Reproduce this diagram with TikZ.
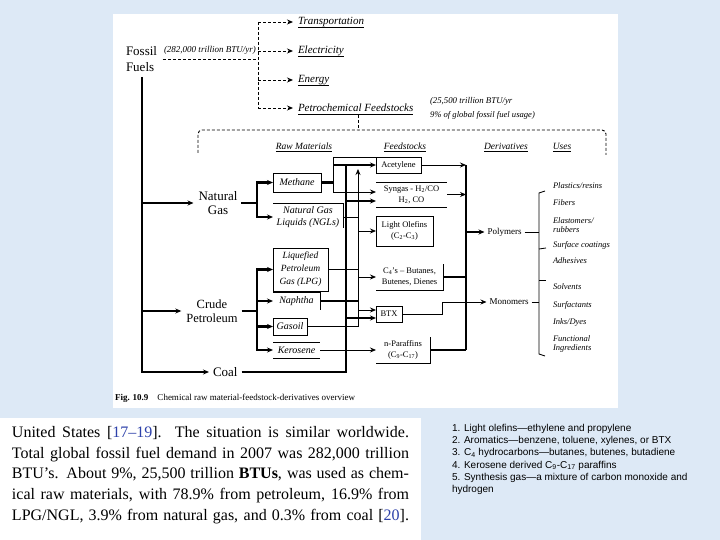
\documentclass[tikz,border=0pt]{standalone}
\usepackage{fontspec}
\setmainfont{Liberation Serif}
\newfontfamily\listfont{Liberation Sans}
\usetikzlibrary{arrows.meta,calc}
\definecolor{slidebg}{RGB}{221,233,246}
\definecolor{citeblue}{RGB}{45,65,170}
\newcommand\myfs[2]{\fontsize{#1}{#2}\selectfont}
\begin{document}
\begin{tikzpicture}[x=1pt,y=-1pt,
  txt/.style={inner sep=0pt,outer sep=0pt},
  thk/.style={line width=2.2pt},
  mid/.style={line width=1.4pt},
  thn/.style={line width=0.8pt},
  arr/.style={-{Stealth[length=6pt,width=5pt]}},
  dsh/.style={line width=0.9pt,dash pattern=on 3pt off 2pt},
  bx/.style={draw,line width=0.8pt},
  rawbox/.style={txt,font=\myfs{10}{12}\itshape,align=center},
  fdbox/.style={txt,font=\myfs{8.5}{11},align=center},
  useslbl/.style={txt,anchor=west,font=\myfs{8.5}{9.5}\itshape,align=left},
  toplbl/.style={txt,anchor=west,font=\myfs{11}{13}\itshape},
  hdr/.style={txt,font=\myfs{9.5}{10}\itshape},
  para/.style={txt,anchor=base west,font=\myfs{16}{20}},
  listl/.style={txt,anchor=base west,font=\listfont\myfs{10}{12}},
]
\useasboundingbox (0,0) rectangle (720,540);
\fill[slidebg] (0,0) rectangle (720,540);
\fill[white] (113,14) rectangle (618,408);
\fill[white] (0,418) rectangle (421,540);

% ---------- top part ----------
\node[txt,anchor=base west,font=\myfs{13}{13}] (fossil) at (126,56) {Fossil};
\node[txt,anchor=base west,font=\myfs{13}{13}] (fuels) at (126,72) {Fuels};
\node[txt,anchor=base west,font=\myfs{9}{9}\itshape] (ffnote) at (164,53) {(282,000 trillion BTU/yr)};

\node[toplbl] (trans) at (298,22) {Transportation};
\node[toplbl] (elec) at (298,51) {Electricity};
\node[toplbl] (energy) at (298,80) {Energy};
\node[toplbl] (petro) at (298,108) {Petrochemical Feedstocks};
\foreach \n in {trans,elec,energy,petro}
  \draw[thn] ([yshift=-2.5pt]\n.base west) -- ([yshift=-2.5pt]\n.base east);

\coordinate (dvTop) at (258,22);
\coordinate (dvBot) at (258,108);
\coordinate (fdStart) at (163,59);
\draw[dsh] (fdStart) -- (fdStart -| dvTop);
\draw[dsh] (dvTop) -- (dvBot);
\draw[dsh,arr,shorten >=5pt] (dvTop) -- (trans.west);
\draw[dsh,arr,shorten >=5pt] (dvTop |- elec.west) -- (elec.west);
\draw[dsh,arr,shorten >=5pt] (dvTop |- energy.west) -- (energy.west);
\draw[dsh,arr,shorten >=5pt] (dvBot) -- (petro.west);

\node[txt,anchor=base west,font=\myfs{8.8}{9}\itshape] (pnote1) at (430,104) {(25,500 trillion BTU/yr};
\node[txt,anchor=base west,font=\myfs{8.6}{9}\itshape] (pnote2) at (430,118) {9\% of global fossil fuel usage)};

\coordinate (pdTop) at (358,115);
\coordinate (pdBot) at (358,130);
\coordinate (brL) at (198,153);
\coordinate (brR) at (606,155);
\draw[dsh] (pdTop) -- (pdBot);
\draw[dsh,rounded corners=4pt] (brL) |- (pdBot) -| (brR);

\node[hdr] (hraw) at (304,146) {Raw Materials};
\node[hdr] (hfeed) at (405,146) {Feedstocks};
\node[hdr] (hder) at (506,146) {Derivatives};
\node[hdr] (huse) at (562,146) {Uses};
\foreach \n in {hraw,hfeed,hder,huse}
  \draw[line width=0.6pt] ([yshift=-2pt]\n.base west) -- ([yshift=-2pt]\n.base east);

% ---------- sources ----------
\node[txt,align=center,font=\myfs{13}{14}] (ng) at (218,203) {Natural\\Gas};
\node[txt,align=center,font=\myfs{12.5}{14}] (cp) at (212,311) {Crude\\Petroleum};
\node[txt,anchor=west,font=\myfs{13}{13}] (coal) at (213,372) {Coal};
\coordinate (trunkTop) at (142,77);
\draw[thk,arr,shorten >=5pt] (trunkTop |- ng.west) -- (ng.west);
\draw[thk,arr,shorten >=5pt] (trunkTop |- cp.west) -- (cp.west);
\draw[thk,arr,shorten >=4pt] (trunkTop) |- (coal.west);

% ---------- raw materials ----------
\node[rawbox,bx,minimum width=48pt,minimum height=19pt] (meth) at (297,182.5) {Methane};
\node[rawbox,minimum width=70pt,minimum height=28pt] (ngl) at (308,217) {Natural Gas\\Liquids (NGLs)};
\draw[thn] (ngl.north west) -- (ngl.north east) -- ($(ngl.south east)+(0,-3)$);
\node[rawbox,bx,minimum width=55pt,minimum height=43pt,font=\myfs{9.5}{13}\itshape] (lpg) at (300.5,269.5) {Liquefied\\Petroleum\\Gas (LPG)};
\node[rawbox,minimum width=47pt,minimum height=18pt] (naph) at (296.5,301) {Naphtha};
\draw[thn] (naph.north west) -- (naph.north east) -- (naph.south east);
\node[rawbox,bx,minimum width=34pt,minimum height=17pt] (gasoil) at (290,326.5) {Gasoil};
\node[rawbox,minimum width=47pt,minimum height=16pt] (ker) at (296.5,350) {Kerosene};
\draw[thn] (ker.north west) -- (ker.north east);
\draw[thn] (ker.south west) -- (ker.south east);

\coordinate (ngJ) at (257,203);
\draw[thk,shorten <=4pt] (ng.east) -- (ngJ);
\draw[thk,arr] (ngJ) |- (meth.west);
\draw[thk,arr] (ngJ) |- (ngl.west);

\coordinate (cpJ) at (257,311);
\draw[thk,shorten <=4pt] (cp.east) -- (cpJ);
\draw[thk,arr] (cpJ) |- (lpg.west);
\draw[thk,arr] (cpJ) |- (naph.west);
\draw[thk,arr] (cpJ) |- (gasoil.west);
\draw[thk,arr] (cpJ) |- (ker.west);

% ---------- feedstocks ----------
\node[fdbox,bx,minimum width=45pt,minimum height=16pt] (acet) at (398.5,165) {Acetylene};
\node[fdbox,minimum width=71pt,minimum height=25pt] (syn) at (411.5,194.5) {Syngas - H\textsubscript{2}/CO\\H\textsubscript{2}, CO};
\draw[thn] (syn.north west) -- (syn.north east);
\draw[thn] (syn.south west) -- (syn.south east);
\node[fdbox,bx,minimum width=57pt,minimum height=30pt] (lo) at (404.5,231) {Light Olefins\\(C\textsubscript{2}-C\textsubscript{3})};
\node[fdbox,minimum width=67pt,minimum height=26pt] (c4) at (409.5,277) {C\textsubscript{4}'s -- Butanes,\\Butenes, Dienes};
\draw[thn] (c4.north east) -- (c4.south east) -- (c4.south west);
\node[fdbox,bx,minimum width=26pt,minimum height=16pt] (btx) at (389,314) {BTX};
\node[fdbox,minimum width=54pt,minimum height=26pt] (npar) at (403,350) {n-Paraffins\\(C\textsubscript{9}-C\textsubscript{17})};
\draw[thn] (npar.north east) -- (npar.south east) -- (npar.south west);

% ---------- middle network ----------
\coordinate (fTL) at (333,157);
\coordinate (fBL) at (333,192);
\draw[thk] (meth.east) -- (meth.east -| fTL);
\draw[thn] (fTL) -- (fBL);
\draw[thn] (fTL) -- (acet.north west);
\draw[thk,arr] (fTL |- acet.west) -- (acet.west);
\draw[thn,arr] (fBL) -- (fBL -| syn.west);

\coordinate (cv) at (346,165);
\draw[thk,shorten <=4pt] (coal.east) -| (cv);
\coordinate (synIn) at (376,201);
\draw[thk,arr] (cv |- synIn) -- (synIn);

\coordinate (tvTop) at (358,169);
\coordinate (tvBot) at (358,327);
\draw[thn,arr] (tvBot) -- (tvTop);
\draw[thn] (ngl.east) -- (ngl.east -| tvTop);
\draw[thn,arr] (tvTop |- lo.west) -- (lo.west);
\draw[thn] (lpg.east) -- (lpg.east -| tvTop);
\draw[thn,arr] (tvTop |- c4.west) -- (c4.west);
\draw[thk] (naph.east) -- (naph.east -| tvTop);
\coordinate (btxIn1) at (376,310);
\coordinate (btxIn2) at (376,318);
\draw[thn,arr] (tvTop |- btxIn1) -- (btxIn1);
\draw[thk,arr] (cv |- btxIn2) -- (btxIn2);
\draw[thn] (gasoil.east) -- (gasoil.east -| tvTop);
\draw[thn,arr] (ker.east) -- (npar.west);

% ---------- collector and derivatives ----------
\coordinate (colTop) at (466,165);
\coordinate (colBot) at (466,350);
\draw[mid] (colTop) -- (colBot);
\draw[thn,arr] (acet.east) -- (colTop);
\draw[thn,arr] (syn.east) -- (syn.east -| colTop);
\draw[thk] (c4.east) -- (c4.east -| colTop);
\draw[thk] (npar.east) -- (npar.east -| colTop);

\node[txt,font=\myfs{9}{10}] (poly) at (504.5,232) {Polymers};
\node[txt,font=\myfs{9}{10}] (mono) at (509,302) {Monomers};
\draw[thk,arr,shorten >=3pt] (colTop |- poly.west) -- (poly.west);
\coordinate (btxJ) at (442,302);
\draw[thn,arr,shorten >=3pt] (btx.east) -| (btxJ) -- (btxJ -| mono.west);

% ---------- uses ----------
\coordinate (ubTop) at (539,193);
\coordinate (ubBot) at (539,354);
\draw[thn] ($(ubTop)+(6,-2)$) -- (ubTop) -- (ubBot) -- ($(ubBot)+(6,2)$);
\draw[thn,shorten <=3pt] (poly.east) -- (poly.east -| ubTop);
\draw[thn,shorten <=3pt] (mono.east) -- (mono.east -| ubTop);
\draw[thn] (539,249) -- (546,248);
\draw[thn] (539,280) -- (546,280);

\node[useslbl] (u1) at (553,186) {Plastics/resins};
\node[useslbl] (u2) at (553,203) {Fibers};
\node[useslbl] (u3) at (553,225) {Elastomers/\\rubbers};
\node[useslbl] (u4) at (553,245) {Surface coatings};
\node[useslbl] (u5) at (553,261) {Adhesives};
\node[useslbl] (u6) at (553,287) {Solvents};
\node[useslbl] (u7) at (553,305) {Surfactants};
\node[useslbl] (u8) at (553,322) {Inks/Dyes};
\node[useslbl] (u9) at (553,344) {Functional\\Ingredients};

\node[txt,anchor=base west,font=\myfs{9}{10}] (cap) at (115,400) {\textbf{Fig. 10.9}\quad Chemical raw material-feedstock-derivatives overview};

% ---------- text below ----------
\node[para] (p1) at (12,437) {\makebox[397pt][s]{United States [\textcolor{citeblue}{17--19}]. The situation is similar worldwide.}};
\node[para] (p2) at (12,458) {\makebox[397pt][s]{Total global fossil fuel demand in 2007 was 282,000 trillion}};
\node[para] (p3) at (12,478.5) {\makebox[397pt][s]{BTU's. About 9\%, 25,500 trillion \textbf{BTUs}, was used as chem-}};
\node[para] (p4) at (12,499) {\makebox[397pt][s]{ical raw materials, with 78.9\% from petroleum, 16.9\% from}};
\node[para] (p5) at (12,520) {\makebox[397pt][s]{LPG/NGL, 3.9\% from natural gas, and 0.3\% from coal [\textcolor{citeblue}{20}].}};

\node[listl] (l1) at (452,431) {1. Light olefins—ethylene and propylene};
\node[listl] (l2) at (452,443.3) {2. Aromatics—benzene, toluene, xylenes, or BTX};
\node[listl] (l3) at (452,455.6) {3. C\textsubscript{4} hydrocarbons—butanes, butenes, butadiene};
\node[listl] (l4) at (452,468) {4. Kerosene derived C\textsubscript{9}-C\textsubscript{17} paraffins};
\node[listl] (l5) at (452,480.3) {5. Synthesis gas—a mixture of carbon monoxide and};
\node[listl] (l6) at (452,492.6) {hydrogen};
\end{tikzpicture}
\end{document}
